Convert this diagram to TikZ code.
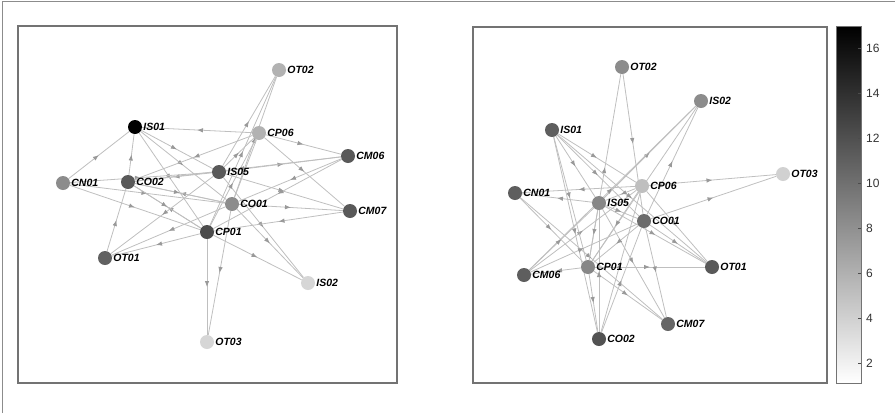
\documentclass[tikz,border=0pt]{standalone}
\usepackage{fontspec}
\setmainfont{Liberation Sans}
\usepackage{tikz}
\usetikzlibrary{arrows.meta}
\usetikzlibrary{decorations.markings}
\usetikzlibrary{backgrounds}
\tikzset{
    panel/.style={draw=black!55, line width=1.2pt},
    agent/.style={circle, fill=black!#1, minimum size=14pt, inner sep=0pt, label distance=0.5pt},
    lbl/.style={font=\fontsize{10.5}{12}\selectfont\bfseries\itshape, inner sep=1pt},
    flow/.style={draw=black!25, line width=0.8pt, postaction={decorate},
        decoration={markings, mark=at position 0.5 with {\arrow[black!40]{Latex[length=6pt,width=4.5pt]}}}},
    ticklabel/.style={font=\fontsize{12}{14}\selectfont, text=black!80, anchor=west, inner sep=0pt}
}

\begin{document}
\begin{tikzpicture}[x=1pt, y=-1pt]
      \useasboundingbox (0,0) rectangle (895,413);
      \draw[black!45, line width=0.8pt] (2.5,413) -- (2.5,1) -- (895,1);

      % left network
      \draw[panel] (18,26) rectangle (397,383);
      \path
          (18,26) coordinate (left)
          +(261,44) node[agent=30, label={[lbl]right:OT02}] (l-ot02) {}
          +(117,101) node[agent=100, label={[lbl]right:IS01}] (l-is01) {}
          +(241,107) node[agent=30, label={[lbl]right:CP06}] (l-cp06) {}
          +(330,130) node[agent=65, label={[lbl]right:CM06}] (l-cm06) {}
          +(45,157) node[agent=45, label={[lbl]right:CN01}] (l-cn01) {}
          +(110,156) node[agent=65, label={[lbl]right:CO02}] (l-co02) {}
          +(201,146) node[agent=65, label={[lbl]right:IS05}] (l-is05) {}
          +(214,178) node[agent=45, label={[lbl]right:CO01}] (l-co01) {}
          +(332,185) node[agent=65, label={[lbl]right:CM07}] (l-cm07) {}
          +(189,206) node[agent=70, label={[lbl]right:CP01}] (l-cp01) {}
          +(87,232) node[agent=62, label={[lbl]right:OT01}] (l-ot01) {}
          +(290,257) node[agent=16, label={[lbl]right:IS02}] (l-is02) {}
          +(189,316) node[agent=16, label={[lbl]right:OT03}] (l-ot03) {};

      \begin{scope}[on background layer]
        \foreach \a/\b in {cn01/is01, co02/is01, cp06/is01, is01/is05, is01/co01, is01/cp01,
            is05/co02, co01/co02, cp01/co02, cn01/co01, cn01/cp01, cn01/is05, co02/cp01,
            co02/co01, ot01/co02, cp01/ot01, co01/ot01, is05/ot01, cp01/ot03, co01/ot03,
            cp01/is02, co01/is02, is05/is02, co01/cm07, cm07/cp01, is05/cm07, cp06/cm07,
            cp06/cm06, is05/cm06, cm06/co01, cm06/cp01, cp01/ot02, is05/ot02, co01/ot02,
            cp01/cp06, co01/cp06, is05/cp06, cp06/co02, cm06/co02}
          \draw[flow] (l-\a) -- (l-\b);
      \end{scope}

      % right network
      \draw[panel] (473,27) rectangle (827,383);
      \path
          (473,27) coordinate (right)
          +(149,40) node[agent=45, label={[lbl]right:OT02}] (r-ot02) {}
          +(228,74) node[agent=45, label={[lbl]right:IS02}] (r-is02) {}
          +(79,103) node[agent=63, label={[lbl]right:IS01}] (r-is01) {}
          +(310,147) node[agent=18, label={[lbl]right:OT03}] (r-ot03) {}
          +(169,159) node[agent=25, label={[lbl]right:CP06}] (r-cp06) {}
          +(42,166) node[agent=63, label={[lbl]right:CN01}] (r-cn01) {}
          +(126,176) node[agent=47, label={[lbl]right:IS05}] (r-is05) {}
          +(171,194) node[agent=58, label={[lbl]right:CO01}] (r-co01) {}
          +(115,240) node[agent=47, label={[lbl]right:CP01}] (r-cp01) {}
          +(51,248) node[agent=63, label={[lbl]right:CM06}] (r-cm06) {}
          +(239,240) node[agent=65, label={[lbl]right:OT01}] (r-ot01) {}
          +(195,297) node[agent=60, label={[lbl]right:CM07}] (r-cm07) {}
          +(126,312) node[agent=68, label={[lbl]right:CO02}] (r-co02) {};

      \begin{scope}[on background layer]
        \foreach \a/\b in {cp01/ot02, ot02/co01, is05/is02, cp01/is02, co01/is02, cm06/is02,
            cm06/cp06, cp06/ot03, co01/ot03, is01/is05, is01/co01, is01/cp01, is01/ot01,
            is01/co02, is01/cp06, cp06/cn01, is05/cn01, cn01/cp01, cn01/cm07, cm06/is05,
            cm06/co01, cp01/cm06, cp01/ot01, co01/ot01, is05/ot01, cp06/ot01, cp01/cm07,
            co01/cm07, is05/cm07, cp01/co02, co02/is05, co02/co01, co02/cp06, is05/cp01,
            co01/cp01, cp06/cp01, cp06/is05, is05/co01}
          \draw[flow] (r-\a) -- (r-\b);
      \end{scope}

      % colour bar
      \shade[top color=black, bottom color=white] (836,26) rectangle (861,383);
      \draw[panel, line width=1pt] (836,26) rectangle (861,383);
      \foreach \v in {2,4,...,16} {
          \draw[black!70, line width=0.8pt] (861,{363-(\v-2)*22.5}) -- ++(-3,0);
          \node[ticklabel] (tick-\v) at (866,{363-(\v-2)*22.5}) {\v};
      }
\end{tikzpicture}
\end{document}
